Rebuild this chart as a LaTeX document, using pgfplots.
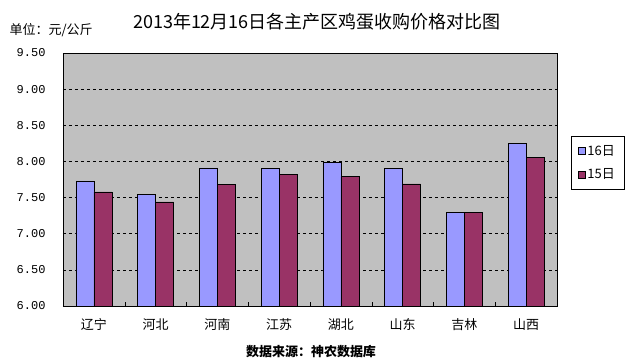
\documentclass[border=0pt]{standalone}
\usepackage{pgfplots}
\pgfplotsset{compat=1.18}
\usepackage{fontspec}
\setmainfont{Noto Sans CJK SC}
\newfontfamily\monofont{Liberation Mono}
\definecolor{gridbg}{HTML}{C0C0C0}
\definecolor{sixteen}{HTML}{9999FF}
\definecolor{fifteen}{HTML}{993366}
\begin{document}
\begin{tikzpicture}
\useasboundingbox (0pt,0pt) rectangle (633pt,-362pt);
\node[anchor=center,font=\fontsize{18}{20}\selectfont] at (317pt,-22pt) {2013年12月16日各主产区鸡蛋收购价格对比图};
\node[anchor=west,font=\fontsize{13}{15}\selectfont] at (6pt,-30pt) {单位：元/公斤};
\node[anchor=center,font=\fontsize{13}{15}\selectfont\bfseries] at (311pt,-352pt) {数据来源：神农数据库};
\begin{axis}[
  at={(63pt,-306pt)}, anchor=south west,
  scale only axis, width=494pt, height=253pt,
  xmin=-0.5, xmax=7.5, ymin=6, ymax=9.5,
  axis background/.style={fill=gridbg},
  axis line style={black, line width=0.6pt},
  ybar=0pt, bar width=18pt,
  xtick={0,...,7},
  xticklabels={辽宁,河北,河南,江苏,湖北,山东,吉林,山西},
  major x tick style={draw=none},
  minor xtick={0.5,1.5,...,6.5},
  minor x tick style={black},
  minor tick length=4pt,
  x tick label style={font=\fontsize{13}{15}\selectfont, yshift=-9pt},
  ytick={6,6.5,...,9.5},
  major y tick style={draw=none},
  y tick label style={font=\fontsize{12}{14}\selectfont\monofont, xshift=-14pt},
  /pgf/number format/.cd, fixed, fixed zerofill, precision=2, assume math mode=true,
  /pgfplots/.cd,
  ymajorgrids, y grid style={black, dashed, line width=0.5pt},
  tick align=inside, xtick pos=bottom, ytick pos=left,
  major tick length=4pt,
  legend style={at={(1.028,0.672)}, anchor=north west, draw=black, fill=white,
    font=\fontsize{13}{15}\selectfont, row sep=8pt, inner xsep=7pt, inner ysep=7pt},
  legend cell align=left,
  legend image code/.code={\draw[#1, draw=black] (0pt,-3.5pt) rectangle (7pt,3.5pt);},
]
\addplot[fill=sixteen, draw=black] coordinates {(0,7.73) (1,7.54) (2,7.91) (3,7.90) (4,7.99) (5,7.90) (6,7.30) (7,8.25)};
\addplot[fill=fifteen, draw=black] coordinates {(0,7.58) (1,7.44) (2,7.68) (3,7.82) (4,7.79) (5,7.69) (6,7.30) (7,8.06)};
\legend{16日,15日}
\end{axis}
\end{tikzpicture}
\end{document}
